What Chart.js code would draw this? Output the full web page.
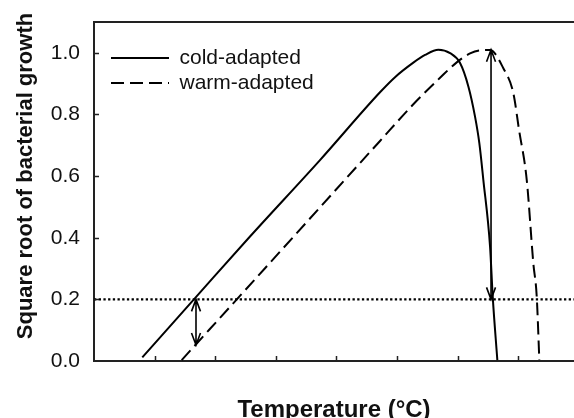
<!DOCTYPE html>
<html><head><meta charset="utf-8">
<script src="https://cdn.jsdelivr.net/npm/chart.js@4.4.1/dist/chart.umd.min.js"></script>
<style>html,body{margin:0;padding:0;background:#fff;overflow:hidden}#c{display:block}</style>
</head><body>
<canvas id="c" width="574" height="418"></canvas>
<script>
const seriesNames = ['cold-adapted', 'warm-adapted'];
const coldTemp   = [0.797, 1.667, 2.574, 3.729, 4.719, 4.967, 5.269, 5.462, 5.682, 5.875, 6.040, 6.177, 6.287, 6.358, 6.424, 6.535, 6.579, 6.655];
const coldGrowth = [0.012, 0.204, 0.404, 0.652, 0.872, 0.921, 0.968, 0.993, 1.010, 0.999, 0.967, 0.891, 0.793, 0.707, 0.588, 0.371, 0.209, 0.003];
const warmTemp   = [1.447, 2.822, 4.719, 5.269, 5.710, 5.985, 6.205, 6.370, 6.535, 6.754, 6.919, 7.013, 7.140, 7.249, 7.305, 7.348];
const warmGrowth = [0.003, 0.301, 0.714, 0.833, 0.919, 0.969, 0.998, 1.008, 1.009, 0.950, 0.869, 0.750, 0.588, 0.317, 0.209, 0.003];
const thresholdTemp   = [0, 7.92];
const thresholdGrowth = [0.2, 0.2];
const arrowTemp = [1.683, 6.551];
const arrowFrom = [0.2, 0.2];
const arrowTo   = [0.052, 1.010];
const yTickValues = [0, 0.2, 0.4, 0.6, 0.8, 1.0];
const yTickLabels = ['0.0', '0.2', '0.4', '0.6', '0.8', '1.0'];
const xTickValues = [1, 2, 3, 4, 5, 6, 7];
const xTitle = 'Temperature (°C)';
const yTitle = 'Square root of bacterial growth';

const FONT = "'Liberation Sans', Arial, sans-serif";
const toPts = (xs, ys) => xs.map((x, i) => ({x: x, y: ys[i]}));

const decor = {
  id: 'decor',
  afterLayout(chart) {
    const lg = chart.legend;
    if (lg) { lg.left += 13; lg.right += 13; lg.top += 43.5; lg.bottom += 43.5; }
    const ys = chart.scales.y;
    if (ys && !ys._shiftedTitle) {
      const orig = ys.drawTitle.bind(ys);
      ys.drawTitle = function () { const t = this.top; this.top = t - 31; orig(); this.top = t; };
      ys._shiftedTitle = true;
    }
  },
  afterDatasetsDraw(chart) {
    const ctx = chart.ctx, a = chart.chartArea, xs = chart.scales.x, ys = chart.scales.y;
    ctx.save();
    ctx.strokeStyle = '#222';
    ctx.lineWidth = 1.5;
    ctx.beginPath();
    xTickValues.forEach(v => { const p = Math.round(xs.getPixelForValue(v)) + 0.5; ctx.moveTo(p, a.bottom); ctx.lineTo(p, a.bottom - 5); });
    yTickValues.forEach(v => { if (v === 0) return; const p = Math.round(ys.getPixelForValue(v)) + 0.5; ctx.moveTo(a.left, p); ctx.lineTo(a.left + 5, p); });
    ctx.stroke();
    ctx.lineWidth = 2;
    ctx.beginPath(); ctx.moveTo(a.left - 1, a.top); ctx.lineTo(a.right, a.top); ctx.stroke();
    ctx.strokeStyle = '#000';
    ctx.lineWidth = 1.6;
    const head = (x, y, dir) => { ctx.moveTo(x - 4.5, y + dir * 12); ctx.lineTo(x, y); ctx.lineTo(x + 4.5, y + dir * 12); };
    arrowTemp.forEach((t, i) => {
      const x = xs.getPixelForValue(t), y1 = ys.getPixelForValue(arrowFrom[i]), y2 = ys.getPixelForValue(arrowTo[i]);
      ctx.beginPath();
      ctx.moveTo(x, y1); ctx.lineTo(x, y2);
      const d1 = y2 > y1 ? 1 : -1;
      head(x, y1, d1); head(x, y2, -d1);
      ctx.stroke();
    });
    ctx.restore();
  }
};

new Chart(document.getElementById('c'), {
  type: 'line',
  data: {
    datasets: [
      { label: seriesNames[0], data: toPts(coldTemp, coldGrowth), borderColor: '#000', backgroundColor: '#000', borderWidth: 2, pointRadius: 0, cubicInterpolationMode: 'monotone', fill: false },
      { label: seriesNames[1], data: toPts(warmTemp, warmGrowth), borderColor: '#000', backgroundColor: '#000', borderWidth: 2, borderDash: [13, 6], pointRadius: 0, cubicInterpolationMode: 'monotone', fill: false },
      { label: 'threshold', data: toPts(thresholdTemp, thresholdGrowth), borderColor: '#000', borderWidth: 2.4, borderDash: [2.3, 2.4], pointRadius: 0, fill: false }
    ]
  },
  options: {
    responsive: false,
    animation: false,
    devicePixelRatio: 1,
    layout: { padding: { top: 22, right: 0, bottom: 0, left: 0 } },
    plugins: {
      tooltip: { enabled: false },
      legend: {
        position: 'chartArea',
        align: 'start',
        labels: {
          filter: item => item.datasetIndex < 2,
          generateLabels: chart => Chart.defaults.plugins.legend.labels.generateLabels(chart).map(it => {
            const ds = chart.data.datasets[it.datasetIndex];
            it.lineDash = ds.borderDash || [];
            it.lineWidth = 2;
            it.strokeStyle = '#000';
            return it;
          }),
          usePointStyle: true,
          pointStyle: 'line',
          pointStyleWidth: 58,
          padding: 4,
          color: '#111',
          font: { family: FONT, size: 21 }
        }
      }
    },
    scales: {
      x: {
        type: 'linear',
        min: 0, max: 7.92,
        afterFit: s => { s.height = 57; s.paddingLeft = 0; s.paddingRight = 0; },
        grid: { display: false, drawTicks: false },
        border: { display: true, width: 2, color: '#222' },
        ticks: { display: false },
        title: { display: true, text: xTitle, color: '#111', font: { family: FONT, size: 24, weight: 'bold', lineHeight: 1.2 }, padding: { top: 0, bottom: -7 } }
      },
      y: {
        type: 'linear',
        min: 0, max: 1.1,
        afterFit: s => { s.width = 94; s.paddingTop = 0; s.paddingBottom = 0; },
        afterBuildTicks: s => { s.ticks = yTickValues.map(v => ({ value: v })); },
        grid: { display: false, drawTicks: false },
        border: { display: true, width: 2, color: '#222' },
        ticks: { padding: 14, color: '#111', font: { family: FONT, size: 21 }, callback: (v, i) => yTickLabels[i] },
        title: { display: true, text: yTitle, color: '#111', font: { family: FONT, size: 22, weight: 'bold', lineHeight: 1.2 }, padding: { top: 13, bottom: 0 } }
      }
    }
  },
  plugins: [decor]
});
</script>
</body></html>
